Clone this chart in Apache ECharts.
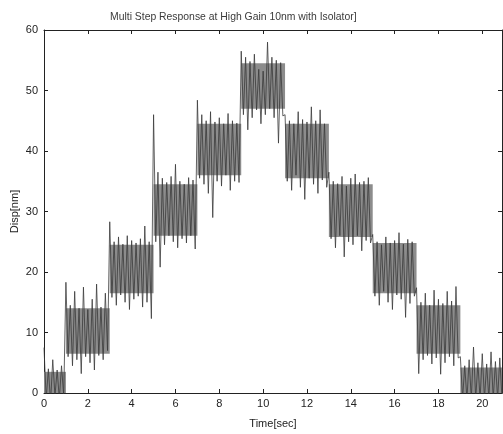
<!DOCTYPE html>
<html>
<head>
<meta charset="utf-8">
<script src="https://cdn.jsdelivr.net/npm/echarts@6/dist/echarts.min.js"></script>
<style>
html,body{margin:0;padding:0;background:#fff;}
#chart{width:503px;height:434px;}
</style>
</head>
<body>
<div id="chart"></div>
<script>
// ---- data ----
var titleText = 'Multi Step Response at High Gain 10nm with Isolator]';
var xName = 'Time[sec]';
var yName = 'Disp[nm]';
var xTicks = [0, 2, 4, 6, 8, 10, 12, 14, 16, 18, 20];
var yTicks = [0, 10, 20, 30, 40, 50, 60];

// step segments (commanded levels) and the dense noise core of each
var segStart = [0, 1, 3, 5, 7, 9, 11, 13, 15, 17, 19];
var segEnd   = [1, 3, 5, 7, 9, 11, 13, 15, 17, 19, 21];
var segLevel = [0, 10, 20, 30, 40, 50, 40, 30, 20, 10, 0];
var coreLow  = [0, 6.5, 16.5, 26, 36, 47, 35.5, 25.8, 16.5, 6.5, 0];
var coreHigh = [3.5, 14, 24.5, 34.5, 44.5, 54.5, 44.5, 34.5, 24.8, 14.5, 4.2];

// measured displacement, sampled every 0.1 s (peaks / troughs of the noise)
var sampleStep = 0.1;
var disp = [
  7.5,-1, 4,-1.5, 5.5,-0.5, 3.8,-1, 4.5,-0.5,
  18.3,6, 14.5,4.5, 16.8,5.5, 14,3.2, 17.5,6, 13.8,5, 15.5,3.8, 18,6.2, 14.2,5.5, 16.5,7,
  28.3,15.8, 25,14.5, 25.8,16.2, 24.6,15, 26,13.8, 25.2,15.5, 24.8,16, 25.5,14.2, 27.6,15, 25,12.3,
  46,25, 36.5,20.8, 35.5,24.5, 34.8,26, 35.8,25, 37.8,24, 35,25.5, 34.5,24.8, 35.6,26, 35.2,23.8,
  48.4,35.5, 46,34.5, 45,33, 46.5,29, 44.8,35, 45.5,34.2, 44.5,36, 46.2,33.5, 45,35, 44.6,34.8,
  56.5,46, 55.5,43.5, 54.8,45.5, 56,46.8, 53.5,44.5, 53.2,46, 58,47, 55.5,45.5, 55,41.3, 54.6,45.8,
  46,35, 45,33.5, 44.5,36, 46.5,34, 45.2,32, 44.8,35.5, 47.3,34.5, 45,33, 46.8,35.2, 44.5,34,
  36.5,25.5, 35,24, 34.6,26, 35.8,22.5, 34.2,25, 35.5,24.5, 36.2,26, 34.8,23.5, 35,25.2, 35.6,24.8,
  26.2,16, 25,14.5, 24.5,16.8, 25.8,15, 24.8,13.8, 25.2,16.2, 26.5,15.5, 24.6,12.5, 25.4,14.8, 25,16,
  17.4,3.2, 15,5.5, 16.5,6.2, 14.5,4.8, 17,5.8, 15.5,3.1, 14.8,5, 16.8,6, 15.2,4.5, 17.6,5.8,
  6,-1, 4.5,-1, 5.5,-1, 7.6,-1, 5,-1, 6.5,-1, 4.8,-1, 6.8,-1, 5.2,-1, 5.8,-1, 5
];

// ---- build series data ----
var signal = disp.map(function (v, i) { return [+(i * sampleStep).toFixed(2), v]; });
var cores = segStart.map(function (s, i) { return [s, segEnd[i], coreLow[i], coreHigh[i], segLevel[i]]; });

var FONT = 'Liberation Sans, Arial, sans-serif';
var chart = echarts.init(document.getElementById('chart'), null, {renderer: 'canvas'});

var axisCommon = {
  type: 'value',
  axisLine: {show: true, onZero: false, lineStyle: {color: '#222', width: 1}},
  axisTick: {show: true, inside: true, length: 4, lineStyle: {color: '#222'}},
  splitLine: {show: false}
};

chart.setOption({
  animation: false,
  backgroundColor: '#fff',
  title: {
    text: titleText, left: 105, top: 7,
    textStyle: {fontFamily: FONT, fontSize: 10.4, fontWeight: 'normal', color: '#3a3a3a'}
  },
  grid: {left: 44, right: 1, top: 30, bottom: 41, containLabel: false, outerBoundsMode: 'none'},
  xAxis: [
    Object.assign({}, axisCommon, {
      position: 'bottom', min: 0, max: 20.9, interval: 2,
      name: xName, nameLocation: 'middle', nameGap: 25, nameMoveOverlap: false,
      nameTextStyle: {fontFamily: FONT, fontSize: 11, color: '#222'},
      axisLabel: {show: true, fontFamily: FONT, fontSize: 11, color: '#222', margin: 5, showMaxLabel: false,
        formatter: function (v) { return xTicks.indexOf(v) >= 0 ? String(v) : ''; }}
    }),
    Object.assign({}, axisCommon, {
      position: 'top', min: 0, max: 20.9, interval: 2,
      axisLabel: {show: false}
    })
  ],
  yAxis: [
    Object.assign({}, axisCommon, {
      position: 'left', min: 0, max: 60, interval: 10,
      name: yName, nameLocation: 'middle', nameGap: 24, nameRotate: 90, nameMoveOverlap: false,
      nameTextStyle: {fontFamily: FONT, fontSize: 11, color: '#222'},
      axisLabel: {show: true, fontFamily: FONT, fontSize: 11, color: '#222', margin: 6,
        formatter: function (v) { return yTicks.indexOf(v) >= 0 ? String(v) : ''; }}
    }),
    Object.assign({}, axisCommon, {
      position: 'right', min: 0, max: 60, interval: 10,
      axisLabel: {show: false}
    })
  ],
  series: [
    {
      type: 'custom',
      xAxisIndex: 0, yAxisIndex: 0,
      clip: true,
      data: cores,
      renderItem: function (params, api) {
        var p0 = api.coord([api.value(0), api.value(3)]);
        var p1 = api.coord([api.value(1), api.value(2)]);
        var rect = echarts.graphic.clipRectByRect({
          x: p0[0], y: p0[1], width: p1[0] - p0[0], height: p1[1] - p0[1]
        }, {x: params.coordSys.x, y: params.coordSys.y, width: params.coordSys.width, height: params.coordSys.height});
        return rect && {type: 'rect', shape: rect, style: {fill: '#8c8c8c'}};
      },
      silent: true
    },
    {
      type: 'line',
      xAxisIndex: 0, yAxisIndex: 0,
      data: signal,
      showSymbol: false,
      clip: true,
      sampling: null,
      lineStyle: {color: '#3a3a3a', width: 0.8},
      silent: true
    }
  ]
});
</script>
</body>
</html>
